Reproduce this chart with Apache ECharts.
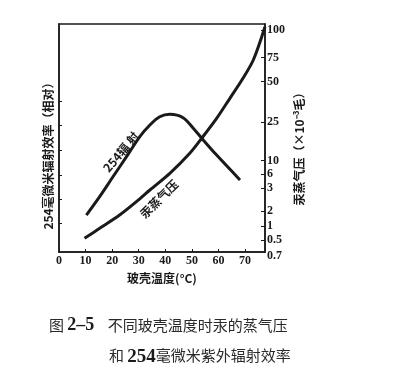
<!DOCTYPE html>
<html>
<head>
<meta charset="utf-8">
<script src="https://cdn.jsdelivr.net/npm/echarts@6/dist/echarts.min.js"></script>
<style>
html,body{margin:0;padding:0;background:#fff;}
#chart{width:399px;height:376px;}
</style>
</head>
<body>
<div id="chart"></div>
<script>
// x axis (glass-shell temperature, °C)
var xTickValues = [0, 10, 20, 30, 40, 50, 60, 70];
// 254 nm radiation efficiency (relative, left axis position units 0-100)
var radTemp = [10.3, 15.3, 20.3, 25.4, 30.4, 34.2, 37.9, 41.7, 46.7, 50.5, 53.7, 59.3, 68.1];
var radEff  = [16.2, 24.3, 33.0, 41.8, 50.6, 55.7, 59.3, 60.4, 58.9, 54.3, 49.9, 42.5, 31.6];
// mercury vapour pressure (right axis position units 0-100)
var vapTemp = [9.6, 15.3, 22.8, 30.4, 34.2, 41.7, 49.2, 53.7, 59.3, 64.3, 68.8, 73.1, 77.5];
var vapPos  = [6.0, 10.4, 16.2, 23.3, 27.2, 34.5, 43.3, 49.9, 58.6, 67.4, 75.4, 84.2, 98.8];
// left axis ticks (unlabelled)
var leftTicks = [12.7, 23.2, 33.8, 44.7, 55.7, 66.2];
// right axis printed tick labels and where they sit on the axis
var rightLabels = ['100', '75', '50', '25', '10', '6', '3', '2', '1', '0.5', '0.7'];
var rightTickPos = [97.4, 85.3, 74.8, 57.0, 40.1, 34.2, 27.9, 18.0, 11.4, 5.3, 0];

var labelMap = {};
rightTickPos.forEach(function (p, i) { labelMap[p] = rightLabels[i]; });

function pairs(xs, ys) { return xs.map(function (x, i) { return [x, ys[i]]; }); }

var ink = '#1a1a1a';
var serif = '"Liberation Serif", "DejaVu Serif", serif';
var cjk = '"Noto Sans CJK SC", sans-serif';

var chart = echarts.init(document.getElementById('chart'));
chart.setOption({
  backgroundColor: '#ffffff',
  animation: false,
  title: [
    {
      left: 44, top: 311,
      text: '{a|图 }{b|2–5}{a|    不同玻壳温度时汞的蒸气压}',
      textStyle: {
        fontWeight: 'normal',
        rich: {
          a: { fontFamily: cjk, fontSize: 15, fontWeight: 'normal', color: '#2a2a2a' },
          b: { fontFamily: serif, fontSize: 18, fontWeight: 'bold', color: '#1a1a1a' }
        }
      }
    },
    {
      left: 104, top: 339,
      text: '{a|和 }{b|254}{a|毫微米紫外辐射效率}',
      textStyle: {
        fontWeight: 'normal',
        rich: {
          a: { fontFamily: cjk, fontSize: 15, fontWeight: 'normal', color: '#2a2a2a' },
          b: { fontFamily: serif, fontSize: 19, fontWeight: 'bold', color: '#1a1a1a', padding: [4, 0, 0, 0] }
        }
      }
    }
  ],
  grid: {
    left: 59, top: 24, width: 206, height: 228,
    show: true, borderColor: ink, borderWidth: 1.5, backgroundColor: 'transparent'
  },
  xAxis: {
    type: 'value', min: 0, max: 77.5,
    name: '玻壳温度(°C)', nameLocation: 'middle', nameGap: 20,
    nameTextStyle: { fontFamily: cjk, fontSize: 12, fontWeight: 'bold', color: ink },
    axisLine: { show: true, lineStyle: { color: ink, width: 1.5 } },
    axisTick: { show: true, inside: true, length: 3, customValues: xTickValues, lineStyle: { color: ink } },
    axisLabel: { show: true, customValues: xTickValues, margin: 3, fontFamily: serif, fontWeight: 'bold', fontSize: 12, color: ink },
    splitLine: { show: false }
  },
  yAxis: [
    {
      type: 'value', min: 0, max: 100, position: 'left',
      axisLine: { show: true, lineStyle: { color: ink, width: 1.5 } },
      axisTick: { show: true, inside: true, length: 3, customValues: leftTicks, lineStyle: { color: ink } },
      axisLabel: { show: false },
      splitLine: { show: false }
    },
    {
      type: 'value', min: 0, max: 100, position: 'right',
      axisLine: { show: true, lineStyle: { color: ink, width: 1.5 } },
      axisTick: { show: true, inside: true, length: 4, customValues: rightTickPos.slice(0, 10), lineStyle: { color: ink } },
      axisLabel: {
        show: true, customValues: rightTickPos, margin: 2,
        fontFamily: serif, fontWeight: 'bold', fontSize: 12, color: ink,
        formatter: function (v) {
          var t = labelMap[v] !== undefined ? labelMap[v] : '';
          return v === 0 ? '{l|' + t + '}' : t;
        },
        rich: { l: { fontFamily: serif, fontWeight: 'bold', fontSize: 12, color: ink, padding: [8, 0, 0, 0] } }
      },
      splitLine: { show: false }
    }
  ],
  series: [
    {
      name: '254辐射', type: 'line', yAxisIndex: 0, smooth: 0.3,
      symbol: 'none', data: pairs(radTemp, radEff),
      lineStyle: { color: ink, width: 3 }
    },
    {
      name: '汞蒸气压', type: 'line', yAxisIndex: 1, smooth: 0.3,
      symbol: 'none', data: pairs(vapTemp, vapPos),
      lineStyle: { color: ink, width: 3 }
    }
  ],
  graphic: [
    {
      type: 'text', x: 48, y: 153, rotation: Math.PI / 2,
      style: { text: '254毫微米辐射效率（相对）', fontFamily: cjk, fontSize: 12, fontWeight: 'bold', fill: ink, align: 'center', verticalAlign: 'middle' }
    },
    {
      type: 'text', x: 299, y: 146, rotation: Math.PI / 2,
      style: { text: '汞蒸气压（×10⁻³毛）', fontFamily: cjk, fontSize: 12, fontWeight: 'bold', fill: ink, align: 'center', verticalAlign: 'middle' }
    },
    {
      type: 'text', x: 121, y: 152, rotation: 50 * Math.PI / 180,
      style: { text: '254辐 射', fontFamily: cjk, fontSize: 12, fontWeight: 'bold', fill: ink, align: 'center', verticalAlign: 'middle' }
    },
    {
      type: 'text', x: 159, y: 199, rotation: 45 * Math.PI / 180,
      style: { text: '汞蒸气压', fontFamily: cjk, fontSize: 12, fontWeight: 'bold', fill: ink, align: 'center', verticalAlign: 'middle' }
    }
  ]
});
</script>
</body>
</html>
